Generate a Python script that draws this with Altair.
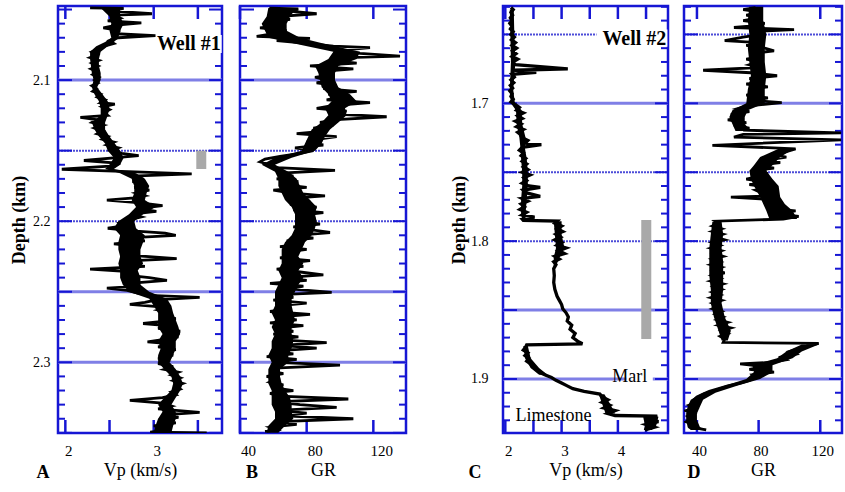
import altair as alt
import pandas as pd

SERIF = "Liberation Serif, Times New Roman, DejaVu Serif, serif"
FRAME = "#1616d4"
LINE_SOLID = "#7f7fe6"
LINE_DOT = "#4c4cd8"

# ---------------- data ----------------
# Well #1 : (depth km, Vp km/s)
well1_vp = [
    (2.0488, 2.28), (2.0492, 2.66), (2.051, 2.50), (2.053, 2.98), (2.054, 2.55), (2.056, 2.62),
    (2.058, 2.48), (2.0595, 2.86), (2.061, 2.58), (2.063, 2.43), (2.065, 2.62), (2.067, 2.52),
    (2.0685, 3.02), (2.070, 2.60), (2.072, 2.50), (2.074, 2.55), (2.076, 2.44), (2.078, 2.38),
    (2.080, 2.30), (2.082, 2.36), (2.084, 2.28), (2.086, 2.38), (2.088, 2.30), (2.090, 2.37),
    (2.092, 2.29), (2.094, 2.36), (2.096, 2.31), (2.098, 2.38), (2.100, 2.33), (2.102, 2.37),
    (2.104, 2.30), (2.106, 2.35), (2.108, 2.31), (2.110, 2.40), (2.112, 2.36), (2.114, 2.45),
    (2.116, 2.40), (2.117, 2.56), (2.119, 2.42), (2.121, 2.50), (2.123, 2.44), (2.125, 2.48),
    (2.1265, 2.17), (2.128, 2.35), (2.130, 2.30), (2.132, 2.43), (2.134, 2.33), (2.136, 2.42),
    (2.138, 2.36), (2.140, 2.48), (2.142, 2.42), (2.144, 2.55), (2.146, 2.47), (2.148, 2.60),
    (2.150, 2.52), (2.152, 2.64), (2.1535, 2.83), (2.155, 2.58), (2.157, 2.21), (2.159, 2.62),
    (2.161, 2.50), (2.1632, 1.96), (2.1645, 2.55), (2.1665, 3.43), (2.168, 2.75), (2.170, 2.88),
    (2.172, 2.76), (2.174, 2.92), (2.176, 2.78), (2.178, 2.95), (2.180, 2.80), (2.182, 2.90),
    (2.1835, 2.78), (2.185, 2.47), (2.187, 2.85), (2.189, 3.10), (2.191, 2.82), (2.193, 3.03),
    (2.195, 2.75), (2.197, 2.86), (2.199, 2.72), (2.201, 2.62), (2.203, 2.70), (2.205, 2.48),
    (2.207, 2.80), (2.2085, 3.13), (2.210, 3.25), (2.212, 2.66), (2.214, 2.90), (2.216, 2.55),
    (2.218, 2.85), (2.220, 2.62), (2.222, 2.82), (2.224, 2.70), (2.2265, 3.26), (2.228, 2.78),
    (2.230, 2.62), (2.232, 2.90), (2.234, 2.28), (2.236, 2.80), (2.238, 2.66), (2.240, 2.95),
    (2.242, 3.15), (2.244, 2.72), (2.246, 2.85), (2.2475, 2.47), (2.249, 2.70), (2.251, 2.82),
    (2.2525, 2.95), (2.254, 3.52), (2.2555, 3.05), (2.2575, 2.90), (2.259, 2.73), (2.261, 3.15),
    (2.263, 3.05), (2.265, 3.20), (2.267, 3.08), (2.269, 3.25), (2.271, 3.10), (2.2725, 2.88),
    (2.274, 3.15), (2.276, 3.05), (2.278, 3.30), (2.280, 3.12), (2.282, 3.28), (2.284, 3.10),
    (2.2855, 2.93), (2.287, 3.20), (2.289, 3.05), (2.291, 3.25), (2.293, 3.10), (2.295, 3.22),
    (2.297, 3.05), (2.299, 3.15), (2.301, 3.05), (2.303, 3.22), (2.305, 3.12), (2.307, 3.28),
    (2.309, 3.20), (2.311, 3.30), (2.313, 3.22), (2.315, 3.33), (2.317, 3.25), (2.319, 3.30),
    (2.321, 3.20), (2.323, 3.25), (2.325, 3.10), (2.327, 2.73), (2.329, 3.10), (2.331, 3.20),
    (2.333, 3.05), (2.3355, 3.52), (2.337, 3.15), (2.339, 3.28), (2.341, 3.05), (2.343, 3.25),
    (2.345, 3.00), (2.347, 3.20), (2.3485, 3.10), (2.3495, 2.96), (2.3500, 3.60),
]
# dense black core of the Vp log, well #1 : (segment, depth, low, high)
well1_vp_core = [
    (1, 2.049, 2.40, 2.62), (1, 2.055, 2.50, 2.62), (1, 2.060, 2.52, 2.66), (1, 2.065, 2.50, 2.62),
    (1, 2.070, 2.52, 2.60), (1, 2.073, 2.45, 2.55), (1, 2.076, 2.35, 2.48), (1, 2.080, 2.28, 2.40),
    (1, 2.085, 2.28, 2.38), (1, 2.090, 2.29, 2.38), (1, 2.095, 2.30, 2.40), (1, 2.100, 2.32, 2.40),
    (1, 2.105, 2.30, 2.36), (1, 2.110, 2.33, 2.42), (1, 2.115, 2.38, 2.48), (1, 2.120, 2.40, 2.50),
    (1, 2.125, 2.40, 2.48), (1, 2.130, 2.30, 2.45), (1, 2.135, 2.33, 2.45), (1, 2.140, 2.38, 2.50),
    (1, 2.145, 2.45, 2.56), (1, 2.150, 2.48, 2.62), (1, 2.155, 2.55, 2.66), (1, 2.160, 2.50, 2.62),
    (1, 2.163, 2.45, 2.55), (1, 2.166, 2.62, 2.80), (1, 2.170, 2.75, 2.90), (1, 2.175, 2.78, 2.95),
    (1, 2.180, 2.78, 2.92), (1, 2.185, 2.75, 2.90), (1, 2.190, 2.80, 3.02), (1, 2.195, 2.72, 2.88),
    (1, 2.200, 2.60, 2.78), (1, 2.205, 2.55, 2.80), (1, 2.210, 2.62, 2.90), (1, 2.215, 2.60, 2.88),
    (1, 2.220, 2.60, 2.85), (1, 2.225, 2.62, 2.85), (1, 2.230, 2.60, 2.88), (1, 2.235, 2.62, 2.82),
    (1, 2.240, 2.62, 2.85), (1, 2.245, 2.65, 2.85), (1, 2.250, 2.72, 2.95), (1, 2.255, 2.95, 3.15),
    (1, 2.260, 3.00, 3.20), (1, 2.265, 3.05, 3.22), (1, 2.270, 3.05, 3.25), (1, 2.275, 3.05, 3.28),
    (1, 2.280, 3.10, 3.30), (1, 2.285, 3.05, 3.25), (1, 2.290, 3.08, 3.25), (1, 2.295, 3.05, 3.22),
    (1, 2.300, 3.05, 3.18), (1, 2.305, 3.12, 3.25), (1, 2.310, 3.20, 3.30), (1, 2.315, 3.22, 3.33),
    (1, 2.320, 3.20, 3.30), (1, 2.325, 3.12, 3.25), (1, 2.330, 3.05, 3.20), (1, 2.335, 3.10, 3.25),
    (1, 2.340, 3.05, 3.25), (1, 2.345, 3.02, 3.22), (1, 2.350, 3.00, 3.20),
]

# Well #1 : (depth km, GR)
well1_gr = [
    (2.049, 57.6), (2.0495, 75), (2.051, 68), (2.053, 86), (2.055, 62), (2.057, 70), (2.059, 58),
    (2.061, 65), (2.063, 52), (2.065, 68), (2.067, 60), (2.069, 50), (2.0705, 82), (2.072, 62),
    (2.074, 80), (2.076, 96), (2.077, 118), (2.079, 100), (2.081, 112), (2.083, 136), (2.084, 104),
    (2.086, 95), (2.088, 110), (2.090, 82), (2.092, 108), (2.094, 88), (2.096, 96), (2.098, 85),
    (2.100, 92), (2.102, 86), (2.104, 98), (2.106, 90), (2.108, 110), (2.110, 93), (2.112, 100),
    (2.114, 92), (2.116, 118), (2.118, 96), (2.120, 86), (2.122, 104), (2.124, 95), (2.126, 128),
    (2.128, 98), (2.130, 88), (2.132, 96), (2.134, 84), (2.136, 92), (2.138, 74), (2.140, 98),
    (2.142, 86), (2.144, 80), (2.146, 90), (2.148, 73), (2.150, 84), (2.152, 76), (2.154, 64),
    (2.156, 55), (2.158, 52), (2.160, 58), (2.162, 62), (2.164, 97), (2.166, 64), (2.168, 72),
    (2.170, 62), (2.172, 75), (2.174, 65), (2.176, 80), (2.178, 60), (2.180, 70), (2.182, 91),
    (2.184, 68), (2.186, 82), (2.188, 70), (2.190, 86), (2.192, 72), (2.194, 90), (2.196, 75),
    (2.198, 85), (2.200, 78), (2.202, 88), (2.204, 72), (2.206, 82), (2.208, 94), (2.210, 74),
    (2.212, 84), (2.214, 68), (2.216, 78), (2.218, 64), (2.220, 80), (2.222, 68), (2.224, 74),
    (2.226, 64), (2.228, 82), (2.230, 66), (2.232, 78), (2.234, 62), (2.236, 76), (2.238, 90),
    (2.240, 66), (2.242, 80), (2.244, 58), (2.246, 78), (2.248, 70), (2.2505, 95), (2.252, 64),
    (2.254, 72), (2.256, 60), (2.258, 80), (2.260, 62), (2.262, 70), (2.264, 58), (2.266, 82),
    (2.268, 62), (2.270, 74), (2.272, 58), (2.274, 78), (2.276, 62), (2.278, 72), (2.280, 60),
    (2.282, 75), (2.284, 62), (2.286, 92), (2.288, 64), (2.290, 86), (2.292, 60), (2.294, 72),
    (2.296, 56), (2.298, 74), (2.300, 62), (2.302, 100), (2.304, 64), (2.306, 58), (2.308, 66),
    (2.310, 56), (2.312, 62), (2.314, 58), (2.316, 66), (2.318, 60), (2.320, 72), (2.322, 58),
    (2.324, 64), (2.326, 105), (2.328, 60), (2.330, 76), (2.332, 98), (2.334, 62), (2.336, 80),
    (2.338, 66), (2.340, 108), (2.342, 64), (2.344, 74), (2.346, 58), (2.348, 62), (2.349, 55),
]
well1_gr_core = [
    (1, 2.049, 57, 74), (1, 2.055, 56, 70), (1, 2.060, 53, 68), (1, 2.065, 55, 68), (1, 2.070, 57, 76),
    (1, 2.075, 76, 93), (1, 2.080, 96, 112), (1, 2.085, 93, 110), (1, 2.090, 85, 99),
    (1, 2.095, 87, 97), (1, 2.100, 88, 97), (1, 2.105, 89, 99), (1, 2.110, 93, 106),
    (1, 2.115, 95, 110), (1, 2.120, 91, 103), (1, 2.125, 93, 104), (1, 2.130, 89, 99),
    (1, 2.135, 83, 94), (1, 2.140, 81, 91), (1, 2.145, 79, 89), (1, 2.150, 77, 85),
    (1, 2.155, 61, 71), (1, 2.160, 53, 61), (1, 2.165, 61, 69), (1, 2.170, 63, 74),
    (1, 2.175, 63, 76), (1, 2.180, 65, 78), (1, 2.185, 67, 82), (1, 2.190, 71, 86),
    (1, 2.195, 73, 85), (1, 2.200, 73, 86), (1, 2.205, 73, 85), (1, 2.210, 71, 83),
    (1, 2.215, 67, 79), (1, 2.220, 65, 77), (1, 2.225, 65, 75), (1, 2.230, 65, 78),
    (1, 2.235, 63, 75), (1, 2.240, 65, 78), (1, 2.245, 63, 75), (1, 2.250, 61, 73),
    (1, 2.255, 61, 71), (1, 2.260, 61, 71), (1, 2.265, 59, 72), (1, 2.270, 61, 73),
    (1, 2.275, 59, 71), (1, 2.280, 61, 71), (1, 2.285, 59, 72), (1, 2.290, 59, 71),
    (1, 2.295, 57, 69), (1, 2.300, 59, 69), (1, 2.305, 57, 64), (1, 2.310, 57, 64),
    (1, 2.315, 57, 65), (1, 2.320, 59, 67), (1, 2.325, 59, 70), (1, 2.330, 59, 71),
    (1, 2.335, 61, 71), (1, 2.340, 61, 72), (1, 2.345, 57, 67), (1, 2.350, 56, 63),
]

# Well #2 : (depth km, Vp km/s)
well2_vp = [
    (1.6305, 2.10), (1.632, 2.14), (1.634, 2.10), (1.636, 2.13), (1.638, 2.09), (1.640, 2.12),
    (1.642, 2.08), (1.644, 2.12), (1.646, 2.09), (1.648, 2.14), (1.650, 2.10), (1.652, 2.16),
    (1.654, 2.11), (1.656, 2.18), (1.658, 2.12), (1.660, 2.20), (1.662, 2.13), (1.664, 2.19),
    (1.666, 2.12), (1.668, 2.22), (1.670, 2.14), (1.672, 2.18), (1.675, 3.11), (1.676, 2.14),
    (1.6775, 2.55), (1.679, 2.12), (1.681, 2.16), (1.683, 2.10), (1.685, 2.15), (1.687, 2.09),
    (1.689, 2.13), (1.691, 2.08), (1.693, 2.12), (1.695, 2.10), (1.697, 2.14), (1.699, 2.10),
    (1.701, 2.18), (1.703, 2.25), (1.705, 2.20), (1.707, 2.32), (1.709, 2.22), (1.711, 2.30),
    (1.713, 2.18), (1.715, 2.28), (1.717, 2.20), (1.719, 2.32), (1.721, 2.22), (1.723, 2.28),
    (1.725, 2.30), (1.727, 2.40), (1.729, 2.35), (1.730, 2.64), (1.732, 2.30), (1.734, 2.25),
    (1.736, 2.32), (1.738, 2.28), (1.740, 2.36), (1.742, 2.30), (1.744, 2.38), (1.746, 2.32),
    (1.748, 2.40), (1.750, 2.30), (1.752, 2.44), (1.754, 2.33), (1.756, 2.38), (1.758, 2.30),
    (1.760, 2.42), (1.761, 2.62), (1.763, 2.32), (1.765, 2.38), (1.7675, 2.62), (1.769, 2.30),
    (1.771, 2.40), (1.773, 2.28), (1.775, 2.34), (1.777, 2.26), (1.779, 2.38), (1.781, 2.30),
    (1.7825, 2.52), (1.7840, 2.30), (1.7850, 2.32), (1.7855, 2.92), (1.787, 2.88), (1.789, 3.00),
    (1.791, 2.92), (1.793, 3.02), (1.795, 2.90), (1.797, 2.98), (1.799, 2.88), (1.801, 3.00),
    (1.803, 2.92), (1.805, 3.08), (1.807, 2.95), (1.809, 3.05), (1.811, 2.88), (1.813, 2.96),
    (1.815, 2.86), (1.817, 2.90), (1.820, 2.86), (1.825, 2.87), (1.830, 2.86), (1.835, 2.88),
    (1.840, 2.92), (1.843, 2.96), (1.846, 3.00), (1.849, 3.02), (1.852, 3.08), (1.855, 3.12),
    (1.858, 3.10), (1.861, 3.18), (1.864, 3.15), (1.867, 3.24), (1.870, 3.20), (1.873, 3.30),
    (1.8745, 3.37), (1.8752, 2.38), (1.877, 2.36), (1.879, 2.32), (1.881, 2.40), (1.883, 2.35),
    (1.885, 2.42), (1.887, 2.38), (1.889, 2.45), (1.891, 2.48), (1.893, 2.55), (1.895, 2.60),
    (1.897, 2.70), (1.899, 2.82), (1.901, 2.90), (1.903, 3.00), (1.905, 3.10), (1.907, 3.20),
    (1.909, 3.40), (1.911, 3.68), (1.913, 3.72), (1.915, 3.82), (1.917, 3.72), (1.919, 3.85),
    (1.921, 3.75), (1.923, 3.95), (1.925, 3.82), (1.9265, 3.95), (1.927, 4.70), (1.929, 4.55),
    (1.931, 4.72), (1.933, 4.50), (1.935, 4.65), (1.937, 4.48),
]
well2_vp_core = [
    (1, 1.632, 2.08, 2.15), (1, 1.650, 2.09, 2.16), (1, 1.670, 2.10, 2.18), (1, 1.690, 2.08, 2.14),
    (1, 1.700, 2.10, 2.17), (1, 1.705, 2.19, 2.29), (1, 1.715, 2.20, 2.30), (1, 1.725, 2.25, 2.36),
    (1, 1.733, 2.27, 2.35), (1, 1.740, 2.28, 2.38), (1, 1.750, 2.30, 2.40), (1, 1.760, 2.30, 2.40),
    (1, 1.770, 2.28, 2.38), (1, 1.780, 2.28, 2.36), (1, 1.7848, 2.30, 2.36),
    (2, 1.7856, 2.86, 3.00), (2, 1.795, 2.88, 3.00), (2, 1.805, 2.90, 3.05), (2, 1.812, 2.86, 2.96),
    (2, 1.818, 2.86, 2.90),
    (3, 1.876, 2.32, 2.40), (3, 1.885, 2.35, 2.45), (3, 1.892, 2.45, 2.60), (3, 1.897, 2.60, 2.75),
    (4, 1.911, 3.66, 3.76), (4, 1.918, 3.72, 3.86), (4, 1.925, 3.78, 3.95),
    (5, 1.9275, 4.45, 4.72), (5, 1.934, 4.48, 4.68), (5, 1.937, 4.46, 4.60),
]

# Well #2 : (depth km, GR) -- the two long spikes near 1.72 km run to the right frame
well2_gr = [
    (1.6305, 78), (1.632, 70), (1.634, 82), (1.636, 72), (1.638, 80), (1.640, 70), (1.642, 84),
    (1.644, 74), (1.645, 64), (1.6465, 103), (1.648, 76), (1.650, 82), (1.652, 70), (1.6545, 58),
    (1.656, 80), (1.658, 72), (1.660, 84), (1.662, 90), (1.664, 74), (1.666, 82), (1.668, 72),
    (1.670, 80), (1.672, 74), (1.674, 82), (1.676, 44), (1.678, 78), (1.680, 92), (1.682, 74),
    (1.684, 84), (1.686, 72), (1.688, 86), (1.690, 74), (1.692, 82), (1.694, 72), (1.696, 86),
    (1.698, 78), (1.6995, 95), (1.702, 72), (1.704, 66), (1.706, 74), (1.708, 62), (1.710, 70),
    (1.712, 60), (1.714, 72), (1.716, 64), (1.718, 74), (1.7195, 70), (1.7215, 133.5), (1.7225, 70),
    (1.7245, 64), (1.7265, 133.5), (1.7305, 50), (1.733, 104), (1.735, 98), (1.737, 88), (1.739, 98),
    (1.741, 86), (1.743, 94), (1.745, 80), (1.747, 90), (1.749, 76), (1.751, 86), (1.753, 80),
    (1.755, 72), (1.757, 84), (1.759, 74), (1.761, 88), (1.763, 78), (1.765, 82), (1.767, 92),
    (1.768, 62), (1.770, 90), (1.772, 84), (1.774, 96), (1.776, 86), (1.778, 104), (1.780, 92),
    (1.782, 106), (1.784, 96), (1.7855, 52), (1.787, 54), (1.789, 50), (1.791, 56), (1.793, 50),
    (1.795, 57), (1.797, 52), (1.799, 58), (1.801, 50), (1.803, 55), (1.805, 49), (1.807, 56),
    (1.809, 51), (1.811, 57), (1.813, 50), (1.815, 55), (1.817, 49), (1.819, 56), (1.821, 51),
    (1.823, 58), (1.825, 50), (1.827, 55), (1.829, 49), (1.831, 57), (1.833, 51), (1.835, 56),
    (1.837, 50), (1.839, 55), (1.841, 49), (1.843, 56), (1.845, 50), (1.847, 54), (1.849, 50),
    (1.851, 56), (1.853, 52), (1.855, 57), (1.857, 53), (1.859, 60), (1.861, 54), (1.863, 62),
    (1.865, 56), (1.867, 60), (1.869, 55), (1.871, 58), (1.8735, 57), (1.8742, 119), (1.876, 112),
    (1.878, 106), (1.880, 100), (1.882, 104), (1.884, 95), (1.886, 98), (1.888, 88), (1.889, 68),
    (1.891, 84), (1.893, 74), (1.895, 90), (1.897, 76), (1.899, 78), (1.901, 74), (1.903, 68),
    (1.905, 60), (1.907, 54), (1.909, 48), (1.911, 44), (1.913, 40), (1.915, 38), (1.917, 40),
    (1.919, 35), (1.921, 39), (1.923, 33), (1.925, 38), (1.927, 34), (1.929, 37), (1.931, 33),
    (1.933, 38), (1.935, 36), (1.937, 46),
]
well2_gr_core = [
    (1, 1.630, 74, 83), (1, 1.640, 73, 83), (1, 1.650, 74, 85), (1, 1.660, 73, 84),
    (1, 1.670, 74, 84), (1, 1.680, 75, 85), (1, 1.690, 73, 84), (1, 1.700, 72, 84),
    (1, 1.705, 63, 73), (1, 1.710, 61, 71), (1, 1.715, 63, 71), (1, 1.720, 65, 75),
    (2, 1.733, 93, 103), (2, 1.739, 81, 94), (2, 1.745, 77, 89), (2, 1.749, 74, 85),
    (2, 1.755, 75, 89), (2, 1.760, 77, 93), (2, 1.768, 81, 94), (2, 1.773, 83, 97),
    (2, 1.778, 85, 102), (2, 1.784, 87, 105),
    (3, 1.786, 50, 56), (3, 1.795, 49, 57), (3, 1.805, 48, 56), (3, 1.815, 48, 57),
    (3, 1.825, 48, 57), (3, 1.835, 49, 57), (3, 1.845, 49, 56), (3, 1.855, 51, 58),
    (3, 1.865, 54, 62), (3, 1.872, 56, 60),
    (4, 1.875, 108, 119), (4, 1.880, 98, 108), (4, 1.885, 92, 102), (4, 1.890, 76, 89),
    (4, 1.895, 77, 89), (4, 1.900, 72, 81), (4, 1.905, 58, 66), (4, 1.910, 44, 52),
    (4, 1.915, 36, 44), (4, 1.920, 34, 42), (4, 1.925, 33, 40), (4, 1.930, 33, 40),
    (4, 1.935, 34, 42), (4, 1.937, 36, 46),
]

# axis tick values / labels
well1_major = [2.05, 2.10, 2.15, 2.20, 2.25, 2.30, 2.35]
well1_minor = [2.06, 2.07, 2.08, 2.09, 2.11, 2.12, 2.13, 2.14, 2.16, 2.17, 2.18, 2.19,
               2.21, 2.22, 2.23, 2.24, 2.26, 2.27, 2.28, 2.29, 2.31, 2.32, 2.33, 2.34]
well1_solid = [2.10, 2.25, 2.30]
well1_dotted = [2.15, 2.20]
well1_labels = [2.1, 2.2, 2.3]

well2_major = [1.65, 1.70, 1.75, 1.80, 1.85, 1.90]
well2_minor = [1.63, 1.64, 1.66, 1.67, 1.68, 1.69, 1.71, 1.72, 1.73, 1.74, 1.76, 1.77,
               1.78, 1.79, 1.81, 1.82, 1.83, 1.84, 1.86, 1.87, 1.88, 1.89, 1.91, 1.92, 1.93]
well2_solid = [1.70, 1.85, 1.90]
well2_dotted = [1.65, 1.75, 1.80]
well2_labels = [1.7, 1.8, 1.9]

vp1_ticks = [2, 2.5, 3, 3.5]
vp1_labels = [2, 3]
vp2_ticks = [2, 2.5, 3, 3.5, 4, 4.5]
vp2_labels = [2, 3, 4]
gr_ticks = [40, 80, 120]
gr_labels = [40, 80, 120]

# annotations: gray bars (vp0, vp1, depth0, depth1)
bar_well1 = [(3.482, 3.595, 2.150, 2.163)]
bar_well2 = [(4.415, 4.593, 1.7847, 1.871)]
# white label boxes (x0, x1, d0, d1)
box_well1 = [(3.07, 3.77, 2.0680, 2.0808)]
box_well2 = [(3.62, 4.88, 1.6465, 1.6590), (4.15, 4.62, 1.8925, 1.9035)]
# text labels (x, depth, text, weight, align)
text_well1 = [(3.76, 2.0746, "Well #1", "bold", "right")]
text_well2 = [(4.86, 1.6530, "Well #2", "bold", "right"),
              (4.21, 1.8985, "Marl", "normal", "center"),
              (2.855, 1.9270, "Limestone", "normal", "center")]

H = 427


def panel(curve, core, xdom, xticks, xlabels, xtitle, loff, ddom, major, minor, solid, dotted,
          W, ylabels, ylabpad, ytitlepad, letter, letter_dx, lw, gap,
          bars=None, boxes=None, texts=None):
    xs = alt.Scale(domain=xdom, nice=False, zero=False, padding=0)
    ys = alt.Scale(domain=ddom, nice=False, zero=False, reverse=True, padding=0)
    xaxis = alt.Axis(values=xlabels, title=xtitle, format="d", ticks=False, tickSize=0,
                     domain=False, grid=False, labelFont=SERIF, labelFontSize=15,
                     labelColor="black", labelPadding=10, labelOffset=loff, labelFlush=False,
                     labelOverlap=False, titleFont=SERIF, titleFontSize=18,
                     titleFontWeight="normal", titleColor="black", titlePadding=3)
    if ylabels:
        yaxis = alt.Axis(values=ylabels, title="Depth (km)", format=".1f", ticks=False,
                         tickSize=0, domain=False, grid=False, labelFont=SERIF,
                         labelFontSize=14, labelColor="black", labelPadding=ylabpad,
                         labelFlush=False, labelOverlap=False, titleFont=SERIF,
                         titleFontSize=18, titleFontWeight="bold", titleColor="black",
                         titlePadding=ytitlepad)
    else:
        yaxis = None

    def X(f):
        return alt.X(f + ":Q", scale=xs, axis=xaxis)

    def Y(f):
        return alt.Y(f + ":Q", scale=ys, axis=yaxis)

    one = pd.DataFrame({"a": [0]})
    layers = []
    # invisible spacer that fixes the gap to the previous panel
    if gap:
        layers.append(alt.Chart(one).mark_rule(opacity=0, strokeWidth=1).encode(
            x=alt.value(-gap), x2=alt.value(-gap), y=alt.value(20), y2=alt.value(22)))
    layers.append(alt.Chart(pd.DataFrame({"d": solid})).mark_rule(
        color=LINE_SOLID, strokeWidth=3).encode(y=Y("d"), x=alt.value(0), x2=alt.value(W)))
    layers.append(alt.Chart(pd.DataFrame({"d": dotted})).mark_rule(
        color=LINE_DOT, strokeWidth=2, strokeDash=[2, 1]).encode(
        y=Y("d"), x=alt.value(0), x2=alt.value(W)))
    mn = pd.DataFrame({"d": minor})
    mj = pd.DataFrame({"d": major})
    layers.append(alt.Chart(mn).mark_rule(color=FRAME, strokeWidth=2).encode(
        y=Y("d"), x=alt.value(0), x2=alt.value(7)))
    layers.append(alt.Chart(mn).mark_rule(color=FRAME, strokeWidth=2).encode(
        y=Y("d"), x=alt.value(W - 7), x2=alt.value(W)))
    layers.append(alt.Chart(mj).mark_rule(color=FRAME, strokeWidth=2).encode(
        y=Y("d"), x=alt.value(0), x2=alt.value(14)))
    layers.append(alt.Chart(mj).mark_rule(color=FRAME, strokeWidth=2).encode(
        y=Y("d"), x=alt.value(W - 13), x2=alt.value(W)))
    xt = pd.DataFrame({"v": xticks})
    layers.append(alt.Chart(xt).mark_rule(color=FRAME, strokeWidth=2.5).encode(
        x=X("v"), y=alt.value(0), y2=alt.value(13)))
    layers.append(alt.Chart(xt).mark_rule(color=FRAME, strokeWidth=2.5).encode(
        x=X("v"), y=alt.value(H - 13), y2=alt.value(H)))

    kdf = pd.DataFrame(core, columns=["s", "d", "lo", "hi"])
    layers.append(alt.Chart(kdf).mark_area(color="black", orient="horizontal", clip=True).encode(
        y=Y("d"), x=X("lo"), x2="hi", detail="s:N"))

    cdf = pd.DataFrame(curve, columns=["d", "v"])
    cdf["i"] = range(len(cdf))
    layers.append(alt.Chart(cdf).mark_line(color="black", strokeWidth=lw, clip=True).encode(
        x=X("v"), y=Y("d"), order="i:Q"))

    if bars:
        bdf = pd.DataFrame(bars, columns=["x0", "x1", "d0", "d1"])
        layers.append(alt.Chart(bdf).mark_rect(color="#a9a9a9").encode(
            x=X("x0"), x2="x1", y=Y("d0"), y2="d1"))
    if boxes:
        wdf = pd.DataFrame(boxes, columns=["x0", "x1", "d0", "d1"])
        layers.append(alt.Chart(wdf).mark_rect(color="white", clip=True).encode(
            x=X("x0"), x2="x1", y=Y("d0"), y2="d1"))
    if texts:
        for (tx, td, tt, tw, ta) in texts:
            tdf = pd.DataFrame({"x": [tx], "d": [td], "t": [tt]})
            layers.append(alt.Chart(tdf).mark_text(
                font=SERIF, fontSize=20 if tw == "bold" else 18, fontWeight=tw, align=ta,
                baseline="middle", color="black").encode(x=X("x"), y=Y("d"), text="t:N"))

    layers.append(alt.Chart(one).mark_text(
        font=SERIF, fontSize=18, fontWeight="bold", align="center", baseline="middle",
        color="black").encode(x=alt.value(letter_dx), y=alt.value(H + 40),
                              text=alt.value(letter)))
    return alt.layer(*layers).properties(width=W, height=H)


pA = panel(well1_vp, well1_vp_core, [1.917, 3.773], vp1_ticks, vp1_labels, "Vp (km/s)", 3,
           [2.0475, 2.3501], well1_major, well1_minor, well1_solid, well1_dotted,
           164, well1_labels, 8, 4, "A", -15, 2.8, 0,
           bars=bar_well1, boxes=box_well1, texts=text_well1)
pB = panel(well1_gr, well1_gr_core, [40.0, 139.6], gr_ticks, gr_labels, "GR", 8,
           [2.0475, 2.3501], well1_major, well1_minor, well1_solid, well1_dotted,
           166, None, 0, 0, "B", 12, 2.8, 13)
pC = panel(well2_vp, well2_vp_core, [1.959, 4.89], vp2_ticks, vp2_labels, "Vp (km/s)", 3,
           [1.6294, 1.9392], well2_major, well2_minor, well2_solid, well2_dotted,
           165, well2_labels, 15, 2, "C", -28, 3.3, 92,
           bars=bar_well2, boxes=box_well2, texts=text_well2)
pD = panel(well2_gr, well2_gr_core, [31.6, 134.1], gr_ticks, gr_labels, "GR", 2,
           [1.6294, 1.9392], well2_major, well2_minor, well2_solid, well2_dotted,
           158, None, 0, 0, "D", 10, 2.8, 11)

chart = alt.hconcat(pA, pB, pC, pD, spacing=0).resolve_scale(
    x="independent", y="independent").properties(
    padding={"left": 9, "top": 3, "right": 0, "bottom": 0},
    background="white").configure_view(stroke=FRAME, strokeWidth=2.5)

chart.save("out.html", embed_options={"renderer": "svg", "actions": False})
